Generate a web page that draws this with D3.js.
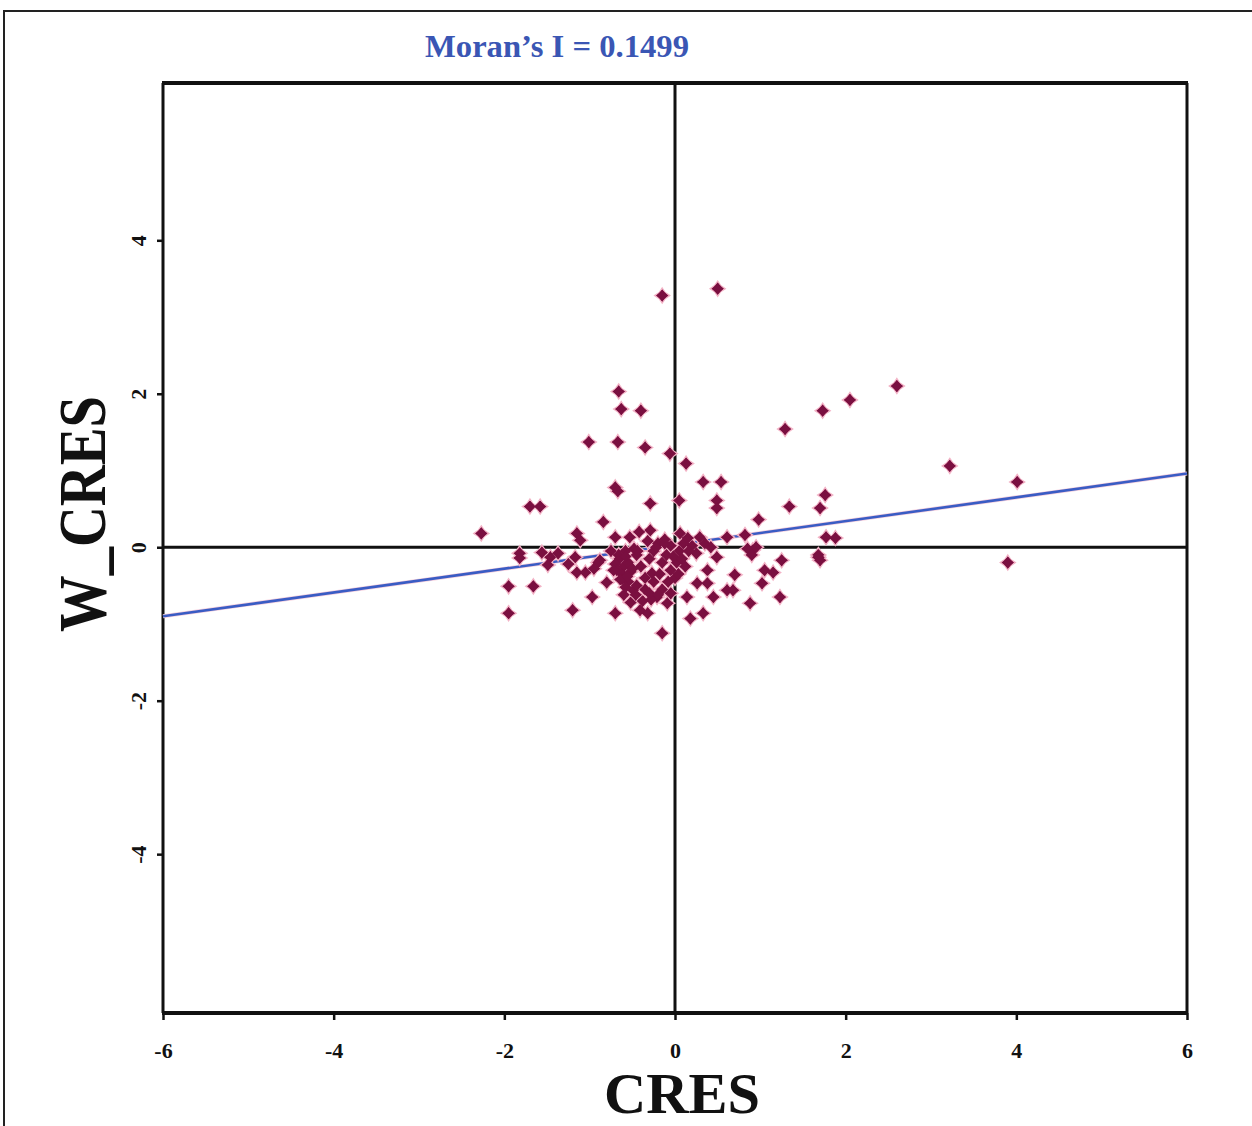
<!DOCTYPE html>
<html><head><meta charset="utf-8">
<script src="https://cdn.jsdelivr.net/npm/d3@7"></script>
<style>html,body{margin:0;padding:0;background:#fff;}svg{display:block;}</style>
</head><body>
<script>
const title = "Moran\u2019s I = 0.1499";
const xLabel = "CRES";
const yLabel = "W_CRES";
const xTicks = [-6, -4, -2, 0, 2, 4, 6];
const yTicks = [-4, -2, 0, 2, 4];
const regSlope = 0.155;
const regIntercept = 0.03;
const cresValues = [
 -0.15,0.50,2.60,2.05,1.73,1.29,3.22,4.01,3.90,-0.66,-0.63,-0.40,-1.01,-0.67,-0.35,-0.06,0.13,0.33,0.54,-0.70,-0.67,-0.29,0.05,0.49,0.49,-1.70,-1.58,-2.27,1.34,1.76,1.70,0.98,-0.84,1.77,1.88,1.68,1.70,
 -1.95,-1.66,-1.95,-1.82,-1.82,-1.56,-1.46,-1.37,-1.49,-1.15,-1.11,-1.17,-1.15,-1.05,-1.20,-0.97,-0.80,-0.70,-0.70,-0.53,-0.88,-0.29,-0.41,-0.32,-0.15,-0.27,-0.21,-0.49,-0.09,0.06,0.14,0.18,0.33,0.26,0.38,0.38,0.49,0.29,0.61,0.45,0.61,0.68,0.70,0.82,0.88,0.91,0.85,0.95,0.90,1.02,1.05,1.15,1.23,1.25,1.68,
 -0.65,-0.60,-0.55,-0.62,-0.52,-0.45,-0.40,-0.35,-0.58,-0.70,-0.48,-0.30,-0.25,-0.20,-0.15,-0.10,-0.05,0.05,0.10,0.02,-0.05,0.12,-0.25,-0.35,-0.45,-0.55,-0.15,-0.05,-0.28,-0.38,-0.60,-0.52,0.20,0.25,0.15,-0.12,-0.32,-0.75,0.35,0.42,-0.42,-0.62,-0.68,-0.18,0.00,0.08,-0.90,-1.25,-0.95,
 -0.66,-0.58,-0.50,-0.72,-0.64,-0.56,-0.44,-0.22,-0.12,-0.02,0.08,0.16,-0.30,-0.08,0.04,-0.20,-0.58,-0.46
];
const wcresValues = [
 3.28,3.37,2.10,1.92,1.78,1.54,1.06,0.85,-0.20,2.03,1.80,1.78,1.37,1.37,1.30,1.22,1.09,0.85,0.85,0.78,0.73,0.57,0.61,0.61,0.51,0.53,0.53,0.18,0.53,0.68,0.51,0.36,0.33,0.13,0.12,-0.10,-0.17,
 -0.51,-0.51,-0.86,-0.08,-0.14,-0.07,-0.13,-0.08,-0.23,0.18,0.09,-0.13,-0.33,-0.33,-0.82,-0.65,-0.46,-0.86,0.13,0.13,-0.17,0.22,-0.82,-0.86,-1.12,-0.34,-0.65,-0.56,-0.73,0.18,-0.65,-0.93,-0.86,-0.47,-0.30,-0.47,-0.13,0.13,0.13,-0.65,-0.56,-0.56,-0.36,0.16,-0.73,-0.04,-0.02,0.00,-0.10,-0.47,-0.30,-0.33,-0.65,-0.17,-0.13,
 -0.15,-0.25,-0.20,-0.35,-0.32,-0.10,-0.25,-0.40,-0.05,-0.22,-0.02,-0.15,-0.05,0.05,-0.20,-0.10,0.02,-0.05,0.05,-0.20,-0.30,-0.25,-0.45,-0.55,-0.50,-0.45,-0.55,-0.60,-0.68,-0.70,-0.62,-0.72,0.02,-0.08,0.12,0.10,0.08,-0.05,0.05,0.00,0.20,-0.42,-0.30,-0.35,-0.40,-0.15,-0.20,-0.22,-0.28,
 -0.10,-0.12,-0.28,-0.30,-0.42,-0.38,-0.05,0.00,0.05,-0.12,-0.15,-0.05,-0.60,-0.45,-0.35,-0.62,-0.52,-0.62
];

const W = 1252, H = 1126;
const svg = d3.select("body").append("svg").attr("width", W).attr("height", H);
svg.append("rect").attr("width", W).attr("height", H).attr("fill", "#fff");
svg.append("rect").attr("x", 4).attr("y", 11).attr("width", W + 20).attr("height", H + 20)
  .attr("fill", "none").attr("stroke", "#222").attr("stroke-width", 2);

const L = 163, R = 1187, T = 83, B = 1013;
const x = d3.scaleLinear().domain([-6, 6]).range([L, R]);
const y = d3.scaleLinear().domain([-6.07, 6.05]).range([B, T]);

const serif = "'Liberation Serif','Times New Roman',serif";
const fmt = d => String(d);

svg.append("text").attr("x", 557).attr("y", 57).attr("text-anchor", "middle")
  .attr("font-family", serif).attr("font-weight", "bold").attr("font-size", 31)
  .attr("fill", "#3a56b4").attr("textLength", 264).attr("lengthAdjust", "spacingAndGlyphs")
  .text(title);

const gx = svg.append("g").attr("transform", `translate(0,${B})`)
  .call(d3.axisBottom(x).tickValues(xTicks).tickSize(7).tickFormat(fmt));
gx.select(".domain").remove();
gx.selectAll(".tick line").attr("stroke", "#111").attr("stroke-width", 2.5);
gx.selectAll(".tick text").attr("font-family", serif).attr("font-weight", "bold")
  .attr("font-size", 22).attr("fill", "#111").attr("dy", "1.6em");

const gy = svg.append("g").attr("transform", `translate(${L},0)`)
  .call(d3.axisLeft(y).tickValues(yTicks).tickSize(6).tickFormat(fmt));
gy.select(".domain").remove();
gy.selectAll(".tick line").attr("stroke", "#111").attr("stroke-width", 2.5);
gy.selectAll(".tick text").attr("font-family", serif).attr("font-weight", "bold")
  .attr("font-size", 22).attr("fill", "#111")
  .attr("text-anchor", "middle").attr("x", 0)
  .attr("transform", "translate(-16,0) rotate(-90)")
  .attr("dy", "-0.05em");

svg.append("line").attr("x1", L - 1).attr("x2", R + 1).attr("y1", T).attr("y2", T).attr("stroke", "#111").attr("stroke-width", 4);
svg.append("line").attr("x1", L - 1).attr("x2", R + 1).attr("y1", B).attr("y2", B).attr("stroke", "#111").attr("stroke-width", 4);
svg.append("line").attr("x1", L).attr("x2", L).attr("y1", T).attr("y2", B).attr("stroke", "#111").attr("stroke-width", 3);
svg.append("line").attr("x1", R).attr("x2", R).attr("y1", T).attr("y2", B).attr("stroke", "#111").attr("stroke-width", 3);
svg.append("line").attr("x1", x(0)).attr("x2", x(0)).attr("y1", T).attr("y2", B).attr("stroke", "#111").attr("stroke-width", 3);
svg.append("line").attr("x1", L).attr("x2", R).attr("y1", y(0)).attr("y2", y(0)).attr("stroke", "#111").attr("stroke-width", 3);

const line = d3.line().x(d => x(d)).y(d => y(regIntercept + regSlope * d));
svg.append("path").datum([-6, 6]).attr("d", line).attr("fill", "none")
  .attr("stroke", "#f6d0dc").attr("stroke-width", 4);
svg.append("path").datum([-6, 6]).attr("d", line).attr("fill", "none")
  .attr("stroke", "#3a5cc4").attr("stroke-width", 2.6);

const pts = cresValues.map((v, i) => ({ x: v, y: wcresValues[i] }));
const star = "M0,-7.5 L3,-3 L7.5,0 L3,3 L0,7.5 L-3,3 L-7.5,0 L-3,-3 Z";
const diamond = "M0,-5.8 L5.8,0 L0,5.8 L-5.8,0 Z";
const g = svg.append("g");
g.selectAll("path.halo").data(pts).join("path").attr("class", "halo")
  .attr("transform", d => `translate(${x(d.x)},${y(d.y)})`)
  .attr("d", star).attr("fill", "#7a0f40").attr("stroke", "#f3b3c6").attr("stroke-width", 1.4);
g.selectAll("path.core").data(pts).join("path").attr("class", "core")
  .attr("transform", d => `translate(${x(d.x)},${y(d.y)})`)
  .attr("d", diamond).attr("fill", "#7a0f40");

svg.append("text").attr("x", 682).attr("y", 1113).attr("text-anchor", "middle")
  .attr("font-family", serif).attr("font-weight", "bold").attr("font-size", 58)
  .attr("fill", "#111").attr("textLength", 156).attr("lengthAdjust", "spacingAndGlyphs")
  .text(xLabel);
svg.append("text").attr("transform", "translate(105,514) rotate(-90)").attr("text-anchor", "middle")
  .attr("font-family", serif).attr("font-weight", "bold").attr("font-size", 68)
  .attr("fill", "#111").attr("textLength", 236).attr("lengthAdjust", "spacingAndGlyphs")
  .text(yLabel);
</script>
</body></html>
